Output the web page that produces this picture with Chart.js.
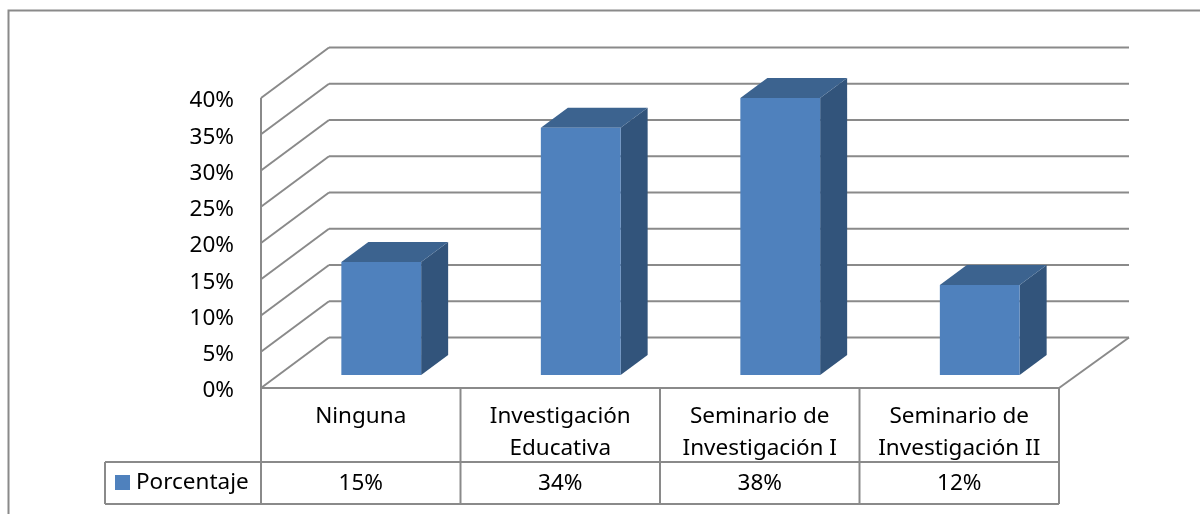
<!DOCTYPE html>
<html>
<head>
<meta charset="utf-8">
<style>html,body{margin:0;padding:0;background:#fff}canvas{display:block}</style>
<script src="https://cdn.jsdelivr.net/npm/chart.js@4"></script>
</head>
<body>
<canvas id="c" width="1200" height="514"></canvas>
<script>
const categories = [["Ninguna"], ["Investigación", "Educativa"], ["Seminario de", "Investigación I"], ["Seminario de", "Investigación II"]];
const seriesName = "Porcentaje";
const barValues = [15.6, 34.1, 38.2, 12.4];
const tableLabels = ["15%", "34%", "38%", "12%"];
const FONT = "'Noto Sans'";
const FSIZE = 22.5;
const GREY = "#8a8a8a";
const FRONT = "#4f81bd", TOP = "#3c638f", SIDE = "#32547b";
const WALL = {dx: 68, dy: -50.5};
const BAR = {dx: 20.5, dy: -13, depthX: 27, depthY: -20};
function line(ctx, x1, y1, x2, y2) { ctx.beginPath(); ctx.moveTo(x1, y1); ctx.lineTo(x2, y2); ctx.stroke(); }
function poly(ctx, pts, color) { ctx.fillStyle = color; ctx.beginPath(); pts.forEach((p, i) => i ? ctx.lineTo(p[0], p[1]) : ctx.moveTo(p[0], p[1])); ctx.closePath(); ctx.fill(); }
const frame3d = {
  id: "frame3d",
  beforeDatasetsDraw(chart) {
    const {ctx, chartArea: a, scales: {y}} = chart;
    ctx.save();
    ctx.strokeStyle = GREY; ctx.lineWidth = 2;
    // outer frame: runs off the top right and bottom left of the image
    ctx.beginPath(); ctx.moveTo(8.5, 514); ctx.lineTo(8.5, 10.5); ctx.lineTo(1200, 10.5); ctx.stroke();
    // walls
    y.ticks.forEach(t => {
      const py = y.getPixelForValue(t.value);
      line(ctx, a.left, py, a.left + WALL.dx, py + WALL.dy);
      line(ctx, a.left + WALL.dx, py + WALL.dy, a.right + WALL.dx + 2, py + WALL.dy);
    });
    const y0 = y.getPixelForValue(0);
    line(ctx, a.right, y0, a.right + WALL.dx + 2, y0 + WALL.dy);
    line(ctx, a.left, y.getPixelForValue(y.max), a.left, y0);
    line(ctx, a.left, y0, a.right, y0);
    // data table
    const rowTop = 462, rowBottom = 504, legendLeft = 105;
    const x = chart.scales.x;
    const edges = categories.map((_, i) => x.getPixelForValue(i) - x.width / categories.length / 2);
    edges.push(a.right);
    edges.forEach(e => line(ctx, e, y0, e, rowBottom));
    line(ctx, legendLeft, rowTop, a.right, rowTop);
    line(ctx, legendLeft, rowBottom, a.right, rowBottom);
    line(ctx, legendLeft, rowTop, legendLeft, rowBottom);
    ctx.fillStyle = FRONT; ctx.fillRect(115, 475, 15, 15);
    ctx.fillStyle = "#000"; ctx.font = FSIZE + "px " + FONT; ctx.textBaseline = "middle";
    ctx.textAlign = "left"; ctx.fillText(seriesName, 136, 483);
    ctx.textAlign = "center";
    tableLabels.forEach((t, i) => ctx.fillText(t, x.getPixelForValue(i), 484));
    ctx.restore();
  },
  beforeDatasetDraw(chart, args) {
    const {ctx} = chart;
    ctx.save();
    ctx.translate(BAR.dx, BAR.dy);
    args.meta.data.forEach(el => {
      const l = el.x - el.width / 2, r = el.x + el.width / 2;
      poly(ctx, [[r, el.base], [r + BAR.depthX, el.base + BAR.depthY], [r + BAR.depthX, el.y + BAR.depthY], [r, el.y]], SIDE);
      poly(ctx, [[l, el.y], [l + BAR.depthX, el.y + BAR.depthY], [r + BAR.depthX, el.y + BAR.depthY], [r, el.y]], TOP);
    });
  },
  afterDatasetDraw(chart) { chart.ctx.restore(); }
};
new Chart(document.getElementById("c"), {
  type: "bar",
  data: { labels: categories, datasets: [{ label: seriesName, data: barValues, backgroundColor: FRONT, borderWidth: 0, barPercentage: 0.4, categoryPercentage: 1 }] },
  plugins: [frame3d],
  options: {
    responsive: false, animation: false,
    layout: { padding: { top: 98, right: 141, left: 0, bottom: 0 } },
    plugins: { legend: { display: false }, tooltip: { enabled: false }, title: { display: false } },
    scales: {
      x: {
        grid: { display: false, drawTicks: false }, border: { display: false },
        afterFit(s) { s.height = 126; },
        ticks: { color: "#000", padding: 13, maxRotation: 0, minRotation: 0, autoSkip: false, font: { family: "Noto Sans", size: FSIZE, lineHeight: 1.42 } }
      },
      y: {
        min: 0, max: 40,
        grid: { display: false, drawTicks: false }, border: { display: false },
        afterFit(s) { s.width = 261; },
        ticks: { stepSize: 5, color: "#000", padding: 27, labelOffset: 3, callback: v => v + "%", font: { family: "Noto Sans", size: FSIZE } }
      }
    }
  }
});
</script>
</body>
</html>
